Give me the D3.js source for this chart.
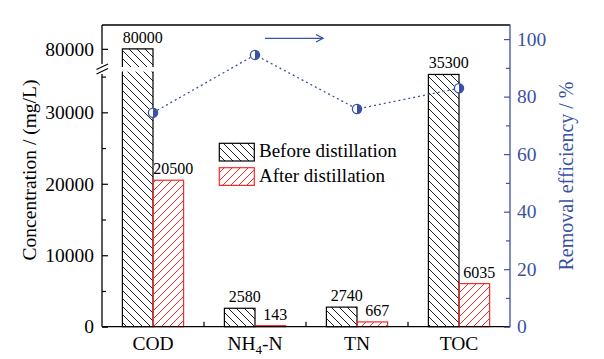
<!DOCTYPE html>
<html><head><meta charset="utf-8">
<script src="https://cdn.jsdelivr.net/npm/d3@7"></script>
<style>body{margin:0;background:#fff} svg{display:block} text{font-family:"Liberation Serif","Times New Roman",serif}</style>
</head><body><svg id="c" width="604" height="359"></svg>
<script>
const categories = ["COD","NH4-N","TN","TOC"];
const beforeValues = [80000, 2580, 2740, 35300];
const afterValues = [20500, 143, 667, 6035];
const removalEfficiency = [74.4, 94.5, 75.7, 82.9];
const leftMajorTicks = [0, 10000, 20000, 30000];
const leftMinorTicks = [5000, 15000, 25000, 35000];
const upperTicks = [80000];
const rightMajorTicks = [0, 20, 40, 60, 80, 100];
const rightMinorTicks = [10, 30, 50, 70, 90];
const seriesNames = ["Before distillation", "After distillation"];

const BLUE = "#3a52a3", RED = "#f52a2a";
const L = 102, R = 510, T = 25, B = 326.7;
const svg = d3.select("#c");
const defs = svg.append("defs");
function hatch(id, color, dir) {
  const p = defs.append("pattern").attr("id", id).attr("patternUnits", "userSpaceOnUse")
    .attr("width", 8).attr("height", 8);
  p.append("path").attr("d", dir === "back"
      ? "M-2,-2L10,10M-2,6L2,10M6,-2L10,2"
      : "M-2,10L10,-2M-2,2L2,-2M6,10L10,6")
    .attr("stroke", color).attr("stroke-width", 1).attr("fill", "none");
}
hatch("hb", "#222", "back");
hatch("ha", RED, "fwd");

const x = d3.scaleBand().domain(categories).range([L, R]);
const bw = x.bandwidth();
const xs = d3.scaleBand().domain(["before", "after"]).range([0.2 * bw, 0.8 * bw]);
const lowMax = 35700, highMin = 77450;
const yLow = d3.scaleLinear().domain([0, lowMax]).range([B, 71.6]);
const yHigh = d3.scaleLinear().domain([highMin, 83350]).range([67, T]);
const yR = d3.scaleLinear().domain([0, 104.9]).range([B, T]);

const series = [
  {key: "before", values: beforeValues, fill: "url(#hb)", stroke: "#000"},
  {key: "after", values: afterValues, fill: "url(#ha)", stroke: RED}
];

const gBars = svg.append("g");
series.forEach(s => {
  categories.forEach((c, i) => {
    const v = s.values[i];
    const x0 = x(c) + xs(s.key), x1 = x0 + xs.bandwidth();
    if (v <= lowMax) {
      gBars.append("rect").attr("x", x0).attr("y", yLow(v)).attr("width", x1 - x0)
        .attr("height", B - yLow(v)).attr("fill", s.fill).attr("stroke", s.stroke).attr("stroke-width", 1.2);
    } else {
      const yt = yLow(lowMax);
      gBars.append("rect").attr("x", x0).attr("y", yt).attr("width", x1 - x0)
        .attr("height", B - yt).attr("fill", s.fill);
      gBars.append("path").attr("d", `M${x0},${yt}V${B}H${x1}V${yt}`)
        .attr("fill", "none").attr("stroke", s.stroke).attr("stroke-width", 1.2);
      const yb = yHigh(highMin), yv = yHigh(v);
      gBars.append("rect").attr("x", x0).attr("y", yv).attr("width", x1 - x0)
        .attr("height", yb - yv).attr("fill", s.fill);
      gBars.append("path").attr("d", `M${x0},${yb}V${yv}H${x1}V${yb}`)
        .attr("fill", "none").attr("stroke", s.stroke).attr("stroke-width", 1.2);
    }
    const ytop = v <= lowMax ? yLow(v) : yHigh(v);
    gBars.append("text").attr("x", (x0 + x1) / 2 + 5).attr("y", ytop - 6)
      .attr("text-anchor", "middle").attr("font-size", "16px").attr("fill", "#000")
      .text(v);
  });
});

// frame
svg.append("line").attr("x1", L).attr("x2", R).attr("y1", T).attr("y2", T).attr("stroke", "#000").attr("stroke-width", 1.3);
svg.append("line").attr("x1", L).attr("x2", R).attr("y1", B).attr("y2", B).attr("stroke", "#000").attr("stroke-width", 1.3);
svg.append("line").attr("x1", L).attr("x2", L).attr("y1", T).attr("y2", 64).attr("stroke", "#000").attr("stroke-width", 1.3);
svg.append("line").attr("x1", L).attr("x2", L).attr("y1", 74).attr("y2", B).attr("stroke", "#000").attr("stroke-width", 1.3);
// break marks
svg.append("line").attr("x1", 96.5).attr("y1", 69.5).attr("x2", 108).attr("y2", 64).attr("stroke", "#000").attr("stroke-width", 1.1);
svg.append("line").attr("x1", 96.5).attr("y1", 74).attr("x2", 108).attr("y2", 68.5).attr("stroke", "#000").attr("stroke-width", 1.1);

function styleAxis(g, color, fs) {
  g.select(".domain").remove();
  g.attr("font-family", null).attr("font-size", null);
  g.selectAll("line").attr("stroke", color).attr("stroke-width", 1.2);
  g.selectAll("text").attr("fill", color).attr("font-size", fs);
}
const fmt = d3.format("d");
svg.append("g").attr("transform", `translate(${L},0)`)
  .call(d3.axisLeft(yLow).tickValues(leftMajorTicks).tickSizeInner(-6).tickSizeOuter(0).tickPadding(8).tickFormat(fmt))
  .call(g => styleAxis(g, "#000", "19.5px"));
svg.append("g").attr("transform", `translate(${L},0)`)
  .call(d3.axisLeft(yLow).tickValues(leftMinorTicks).tickSizeInner(-4).tickSizeOuter(0).tickFormat(""))
  .call(g => styleAxis(g, "#000", "19.5px"));
svg.append("g").attr("transform", `translate(${L},0)`)
  .call(d3.axisLeft(yHigh).tickValues(upperTicks).tickSizeInner(-6).tickSizeOuter(0).tickPadding(8).tickFormat(fmt))
  .call(g => styleAxis(g, "#000", "19.5px"));

svg.append("line").attr("x1", R).attr("x2", R).attr("y1", T - 0.6).attr("y2", B + 0.6).attr("stroke", BLUE).attr("stroke-width", 1.3);
svg.append("g").attr("transform", `translate(${R},0)`)
  .call(d3.axisRight(yR).tickValues(rightMajorTicks).tickSizeInner(-6).tickSizeOuter(0).tickPadding(7).tickFormat(fmt))
  .call(g => styleAxis(g, BLUE, "19.5px"));
svg.append("g").attr("transform", `translate(${R},0)`)
  .call(d3.axisRight(yR).tickValues(rightMinorTicks).tickSizeInner(-4).tickSizeOuter(0).tickFormat(""))
  .call(g => styleAxis(g, BLUE, "19.5px"));

// category boundary ticks
categories.slice(0, -1).forEach(c => {
  const xb = x(c) + bw;
  svg.append("line").attr("x1", xb).attr("x2", xb).attr("y1", B).attr("y2", B - 5).attr("stroke", "#000").attr("stroke-width", 1.2);
});
// category labels
categories.forEach(c => {
  const t = svg.append("text").attr("x", x(c) + bw / 2).attr("y", 350)
    .attr("text-anchor", "middle").attr("font-size", "19.5px").attr("fill", "#000");
  const m = c.match(/^([A-Z]+)(\d)(.*)$/);
  if (m) {
    t.append("tspan").text(m[1]);
    t.append("tspan").attr("font-size", "13px").attr("dy", 4).text(m[2]);
    t.append("tspan").attr("dy", -4).text(m[3]);
  } else t.text(c);
});

// removal efficiency line
const pts = categories.map((c, i) => [x(c) + bw / 2, yR(removalEfficiency[i])]);
svg.append("path").attr("d", d3.line()(pts)).attr("fill", "none").attr("stroke", BLUE)
  .attr("stroke-width", 1.3).attr("stroke-dasharray", "2,3");
const r = 4.6;
pts.forEach(([cx, cy]) => {
  svg.append("circle").attr("cx", cx).attr("cy", cy).attr("r", r).attr("fill", "#fff").attr("stroke", BLUE).attr("stroke-width", 1.3);
  svg.append("path").attr("d", `M${cx},${cy - r}A${r},${r} 0 0 1 ${cx},${cy + r}Z`).attr("fill", BLUE);
});
// arrow pointing to right axis
svg.append("line").attr("x1", 265).attr("x2", 323).attr("y1", 38.3).attr("y2", 38.3).attr("stroke", BLUE).attr("stroke-width", 1.3);
svg.append("path").attr("d", "M316,34.5L323,38.3L316,42").attr("fill", "none").attr("stroke", BLUE).attr("stroke-width", 1.3);

// legend
const lg = svg.append("g");
series.forEach((s, i) => {
  const yy = 143.3 + i * 24.4;
  lg.append("rect").attr("x", 219.3).attr("y", yy).attr("width", 35).attr("height", 17.7)
    .attr("fill", s.fill).attr("stroke", s.stroke).attr("stroke-width", 1.2);
  lg.append("text").attr("x", 259).attr("y", yy + 14).attr("font-size", "19px").attr("fill", "#000").text(seriesNames[i]);
});

// axis titles
svg.append("text").attr("transform", "translate(36,170) rotate(-90)").attr("text-anchor", "middle")
  .attr("font-size", "19.5px").attr("fill", "#000").text("Concentration / (mg/L)");
svg.append("text").attr("transform", "translate(573,176) rotate(-90)").attr("text-anchor", "middle")
  .attr("font-size", "20px").attr("fill", BLUE).text("Removal efficiency / %");
</script></body></html>
